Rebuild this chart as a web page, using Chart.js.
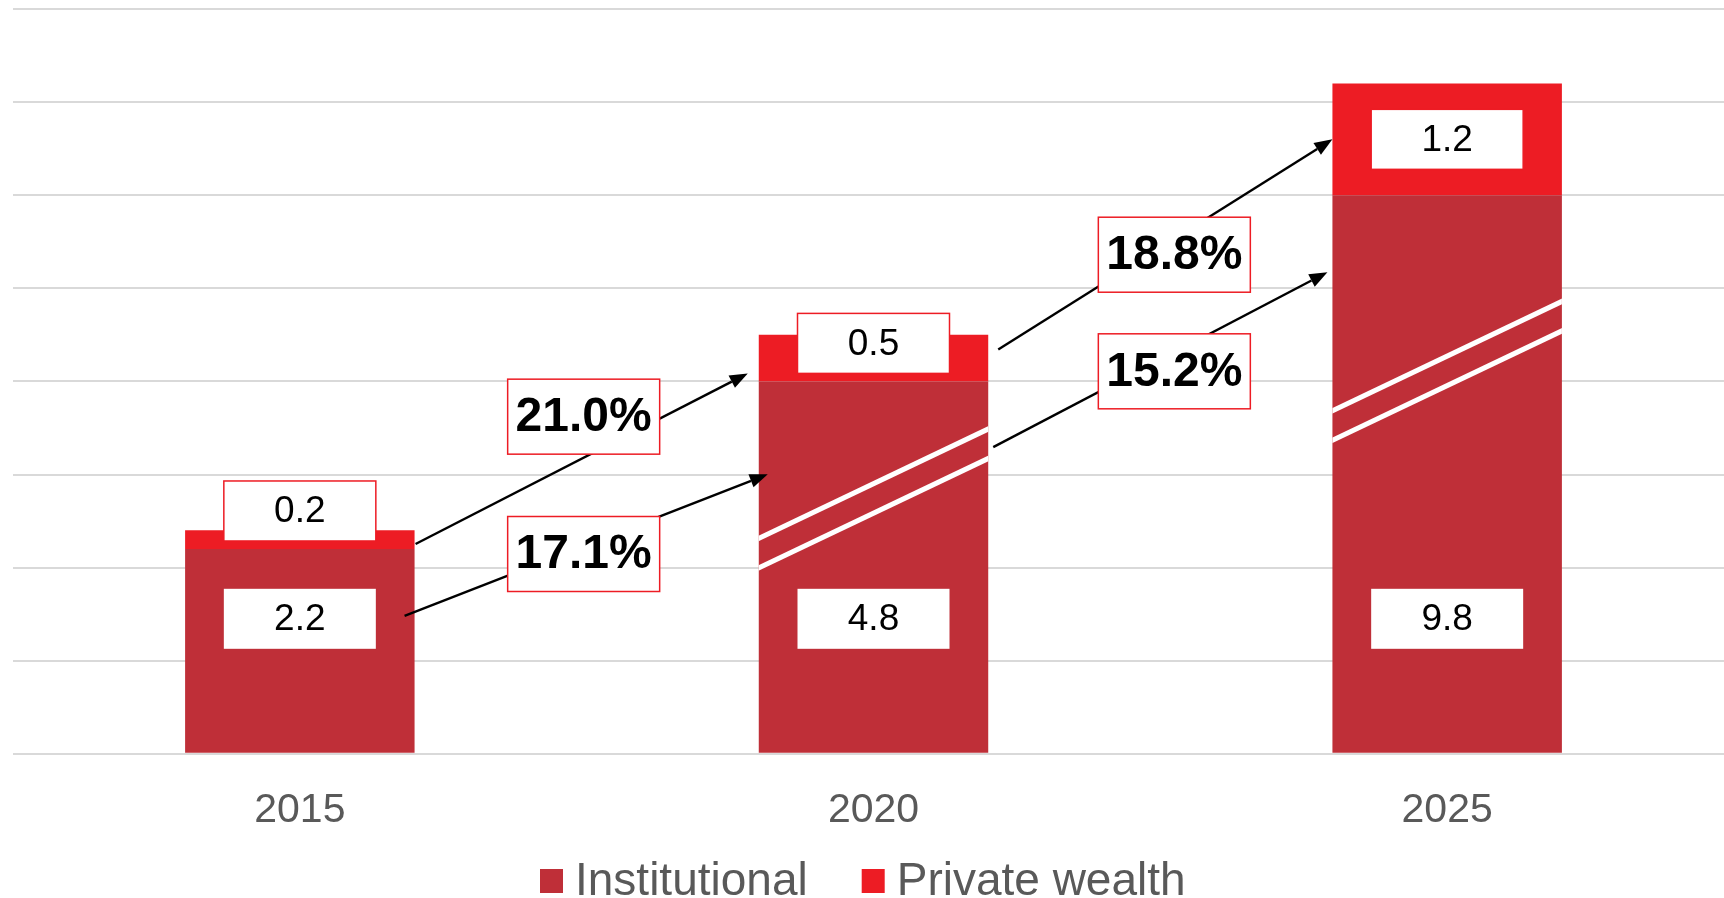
<!DOCTYPE html>
<html>
<head>
<meta charset="utf-8">
<title>Institutional y private wealth</title>
<script src="https://cdn.jsdelivr.net/npm/chart.js@4.4.1/dist/chart.umd.min.js"></script>
<style>
  html, body { margin: 0; padding: 0; background: #fff; overflow: hidden; }
  #wrap { width: 1734px; height: 898px; }
</style>
</head>
<body>
<div id="wrap"><canvas id="GraficoAum" width="1734" height="898"></canvas></div>
<script>
//DATOS
var years = ['2015', '2020', '2025'];
var institutional = [2.2, 4.8, 9.8];
var privateWealth = [0.2, 0.5, 1.2];
// altura dibujada sobre el eje cortado (2020 y 2025 van cortadas)
var institutionalCut = [2.2, 4.0, 6.0];
var brokenBars = [false, true, true];
var institutionalGrowth = ['17.1%', '15.2%'];
var privateGrowth = ['21.0%', '18.8%'];
var yTicks = [0, 1, 2, 3, 4, 5, 6, 7, 8];

var rojoOscuro = '#BF2F38';
var rojo = '#ED1C24';
var gris = '#595959';
var fuente = '"Liberation Sans", Arial, sans-serif';

function flecha(c, x1, y1, x2, y2) {
  var ang = Math.atan2(y2 - y1, x2 - x1);
  var largo = 18, ancho = 7;
  c.strokeStyle = '#000';
  c.lineWidth = 2.4;
  c.beginPath();
  c.moveTo(x1, y1);
  c.lineTo(x2 - Math.cos(ang) * largo, y2 - Math.sin(ang) * largo);
  c.stroke();
  c.fillStyle = '#000';
  c.beginPath();
  c.moveTo(x2, y2);
  c.lineTo(x2 - Math.cos(ang) * largo - Math.sin(ang) * ancho, y2 - Math.sin(ang) * largo + Math.cos(ang) * ancho);
  c.lineTo(x2 - Math.cos(ang) * largo + Math.sin(ang) * ancho, y2 - Math.sin(ang) * largo - Math.cos(ang) * ancho);
  c.closePath();
  c.fill();
}

function caja(c, cx, cy, w, h, texto, font, borde) {
  c.fillStyle = '#fff';
  c.fillRect(cx - w / 2, cy - h / 2, w, h);
  if (borde) {
    c.strokeStyle = rojo;
    c.lineWidth = 1.5;
    c.strokeRect(cx - w / 2, cy - h / 2, w, h);
  }
  c.fillStyle = '#000';
  c.font = font;
  c.textAlign = 'center';
  c.textBaseline = 'middle';
  c.fillText(texto, cx, cy + 1);
}

var anotaciones = {
  id: 'anotaciones',
  afterDatasetsDraw: function (chart) {
    var c = chart.ctx;
    var ys = chart.scales.y;
    var inst = chart.getDatasetMeta(0).data;
    var priv = chart.getDatasetMeta(1).data;
    var L = function (el) { return el.x - el.width / 2; };
    var R = function (el) { return el.x + el.width / 2; };
    c.save();

    // marcas de corte
    inst.forEach(function (el, i) {
      if (!brokenBars[i]) return;
      var h = el.base - el.y;
      var mid = el.base - 0.685 * h;
      var sube = 0.238 * el.width;
      c.save();
      c.beginPath();
      c.rect(L(el), el.y, el.width, h);
      c.clip();
      c.strokeStyle = '#fff';
      c.lineWidth = 5;
      [-14.75, 14.75].forEach(function (d) {
        c.beginPath();
        c.moveTo(L(el) - 2, mid + d + sube + 1);
        c.lineTo(R(el) + 2, mid + d - sube - 1);
        c.stroke();
      });
      c.restore();
    });

    // posiciones de las etiquetas
    var instY = ys.getPixelForValue(1.45);
    var privY = priv.map(function (el, i) {
      return Math.min((el.y + el.base) / 2, inst[i].y - 38);
    });

    // flechas de crecimiento
    var fl = [
      [R(priv[0]) + 1, privY[0] + 33, L(priv[1]) - 11, privY[1] + 30, -3, -41],
      [R(inst[0]) - 10, instY - 3, L(inst[1]) + 9, inst[1].base - 0.75 * (inst[1].base - inst[1].y), -3, 8],
      [R(priv[1]) + 10, privY[1] + 6, L(priv[2]), privY[2], 14, 16],
      [R(inst[1]) + 5, inst[1].base - 0.823 * (inst[1].base - inst[1].y), L(inst[2]) - 5, inst[2].base - 0.862 * (inst[2].base - inst[2].y), 14, 19]
    ];
    var textos = [privateGrowth[0], institutionalGrowth[0], privateGrowth[1], institutionalGrowth[1]];
    fl.forEach(function (f) { flecha(c, f[0], f[1], f[2], f[3]); });
    fl.forEach(function (f, k) {
      var g = Math.floor(k / 2);
      var cx = (R(inst[g]) + L(inst[g + 1])) / 2 + f[4];
      var cy = f[1] + (f[3] - f[1]) * (cx - f[0]) / (f[2] - f[0]) + f[5];
      caja(c, cx, cy, 152, 75, textos[k], 'bold 48px ' + fuente, true);
    });

    // etiquetas de valores
    inst.forEach(function (el, i) {
      caja(c, el.x, instY, 152, 60, institutional[i].toFixed(1), '37px ' + fuente, false);
    });
    priv.forEach(function (el, i) {
      caja(c, el.x, privY[i], 152, 60, privateWealth[i].toFixed(1), '37px ' + fuente, true);
    });
    c.restore();
  }
};

var leyenda = {
  id: 'leyenda',
  afterDraw: function (chart) {
    var c = chart.ctx;
    var items = [['Institutional', rojoOscuro], ['Private wealth', rojo]];
    var x = 540, y = 881;
    c.save();
    c.font = '46px ' + fuente;
    c.textAlign = 'left';
    c.textBaseline = 'middle';
    items.forEach(function (it) {
      c.fillStyle = it[1];
      c.fillRect(x, y - 12, 23, 24);
      c.fillStyle = gris;
      c.fillText(it[0], x + 35, y + 1);
      x += 35 + c.measureText(it[0]).width + 54;
    });
    c.restore();
  }
};

var ctx1 = document.getElementById('GraficoAum').getContext('2d');
var GraficoAum = new Chart(ctx1, {
  type: 'bar',
  data: {
    labels: years,
    datasets: [{
      label: 'Institutional',
      data: institutionalCut,
      backgroundColor: rojoOscuro
    }, {
      label: 'Private wealth',
      data: privateWealth,
      backgroundColor: rojo
    }]
  },
  options: {
    responsive: false,
    animation: false,
    layout: { padding: { left: 13, top: 9, right: 0, bottom: 31 } },
    datasets: { bar: { categoryPercentage: 1, barPercentage: 0.4 } },
    plugins: { legend: { display: false }, tooltip: { enabled: false } },
    scales: {
      x: {
        stacked: true,
        grid: { display: false, drawTicks: false },
        border: { display: false },
        ticks: { color: gris, font: { size: 41, family: fuente }, padding: 32 }
      },
      y: {
        stacked: true,
        min: 0,
        max: 8,
        afterBuildTicks: function (axis) {
          axis.ticks = yTicks.map(function (v) { return { value: v }; });
        },
        ticks: { display: false },
        grid: { color: '#D9D9D9', lineWidth: 2, drawTicks: false },
        border: { display: false }
      }
    }
  },
  plugins: [anotaciones, leyenda]
});
</script>
</body>
</html>
